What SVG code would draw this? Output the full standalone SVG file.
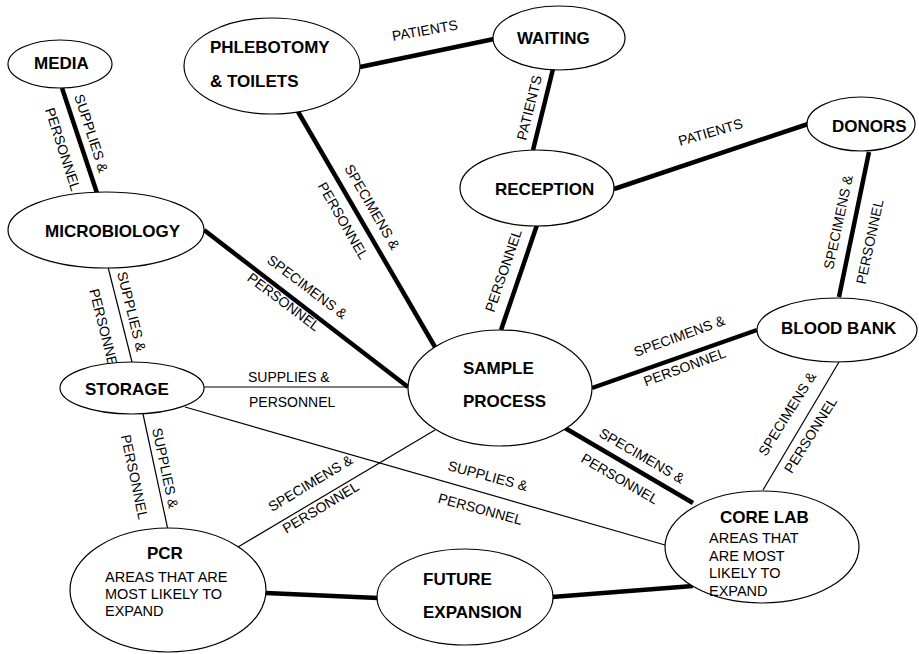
<svg xmlns="http://www.w3.org/2000/svg" width="919" height="654" viewBox="0 0 919 654">
  <style>
    .node { fill: #ffffff; stroke: #000000; stroke-width: 1.2; }
    .title { font-family: "Liberation Sans", Arial, sans-serif; font-weight: bold; font-size: 17px; fill: #000000; }
    .body { font-family: "Liberation Sans", Arial, sans-serif; font-size: 14.5px; fill: #000000; }
    .lbl { font-family: "Liberation Sans", Arial, sans-serif; font-size: 14px; fill: #000000; }
    .thick { stroke: #000000; stroke-width: 4.5; fill: none; }
    .thin { stroke: #000000; stroke-width: 1.2; fill: none; }
  </style>
  <rect width="919" height="654" fill="#ffffff"/>

  <!-- connectors -->
  <g id="connectors">
    <line class="thick" x1="62" y1="88" x2="97" y2="193"/>
    <line class="thick" x1="360" y1="67" x2="494" y2="39"/>
    <line class="thick" x1="553" y1="69" x2="533" y2="150"/>
    <line class="thick" x1="614" y1="189" x2="808" y2="124"/>
    <line class="thick" x1="869" y1="152" x2="839" y2="297"/>
    <line class="thick" x1="537" y1="225" x2="501" y2="330"/>
    <line class="thick" x1="297" y1="110" x2="435" y2="347"/>
    <line class="thick" x1="204" y1="230" x2="408" y2="387"/>
    <line class="thick" x1="592" y1="388" x2="757" y2="330"/>
    <line class="thick" x1="565" y1="428" x2="693" y2="503"/>
    <line class="thick" x1="266" y1="593" x2="378" y2="598"/>
    <line class="thick" x1="552" y1="597" x2="693" y2="586"/>
    <line class="thin" x1="108" y1="267" x2="132" y2="362"/>
    <line class="thin" x1="204" y1="387" x2="408" y2="387"/>
    <line class="thin" x1="143" y1="414" x2="168" y2="530"/>
    <line class="thin" x1="185" y1="407" x2="665" y2="545"/>
    <line class="thin" x1="238" y1="547" x2="435" y2="430"/>
    <line class="thin" x1="839" y1="362" x2="763" y2="490"/>

    <!-- connector labels -->
    <g class="lbl">
      <g transform="translate(74,96) rotate(72)"><text x="0" y="0">SUPPLIES  &amp;</text><text x="4" y="32">PERSONNEL</text></g>
      <text transform="translate(393,41) rotate(-10)">PATIENTS</text>
      <text transform="translate(526,141) rotate(-76)">PATIENTS</text>
      <text transform="translate(680,146) rotate(-16)">PATIENTS</text>
      <g transform="translate(833,270) rotate(-78)"><text x="0" y="0">SPECIMENS &amp;</text><text x="-8" y="35">PERSONNEL</text></g>
      <text transform="translate(494,313) rotate(-71)">PERSONNEL</text>
      <g transform="translate(344,168) rotate(60)"><text x="0" y="0">SPECIMENS &amp;</text><text x="2" y="32">PERSONNEL</text></g>
      <g transform="translate(266,262) rotate(37)"><text x="0" y="0">SPECIMENS &amp;</text><text x="-5" y="26">PERSONNEL</text></g>
      <g transform="translate(117,273) rotate(76)"><text x="0" y="0">SUPPLIES &amp;</text><text x="10" y="31">PERSONNEL</text></g>
      <text x="248" y="382">SUPPLIES &amp;</text>
      <text x="249" y="407">PERSONNEL</text>
      <g transform="translate(152,429) rotate(78)"><text x="0" y="0">SUPPLIES &amp;</text><text x="0" y="32">PERSONNEL</text></g>
      <g transform="translate(272,512) rotate(-31)"><text x="0" y="0">SPECIMENS &amp;</text><text x="1" y="26">PERSONNEL</text></g>
      <g transform="translate(447,470) rotate(15)"><text x="0" y="0">SUPPLIES &amp;</text><text x="-1" y="34">PERSONNEL</text></g>
      <g transform="translate(598,436) rotate(30)"><text x="0" y="0">SPECIMENS &amp;</text><text x="-3" y="31">PERSONNEL</text></g>
      <g transform="translate(636,357) rotate(-20)"><text x="0" y="0">SPECIMENS &amp;</text><text x="-1" y="31">PERSONNEL</text></g>
      <g transform="translate(766,457) rotate(-58)"><text x="0" y="0">SPECIMENS &amp;</text><text x="-1" y="31">PERSONNEL</text></g>
    </g>
  </g>

  <!-- nodes -->
  <g id="media">
    <ellipse class="node" cx="60" cy="64" rx="52" ry="24"/>
    <text class="title" x="34" y="69">MEDIA</text>
  </g>
  <g id="microbiology">
    <ellipse class="node" cx="106" cy="230" rx="98" ry="38"/>
    <text class="title" x="45" y="237">MICROBIOLOGY</text>
  </g>
  <g id="phlebotomy">
    <ellipse class="node" cx="272" cy="66" rx="88" ry="48"/>
    <text class="title" x="210" y="53">PHLEBOTOMY</text>
    <text class="title" x="210" y="87">&amp; TOILETS</text>
  </g>
  <g id="waiting">
    <ellipse class="node" cx="559" cy="38" rx="66" ry="32"/>
    <text class="title" x="517" y="44">WAITING</text>
  </g>
  <g id="reception">
    <ellipse class="node" cx="537" cy="188" rx="77" ry="38"/>
    <text class="title" x="495" y="195">RECEPTION</text>
  </g>
  <g id="donors">
    <ellipse class="node" cx="861" cy="124" rx="54" ry="27"/>
    <text class="title" x="832" y="132">DONORS</text>
  </g>
  <g id="blood-bank">
    <ellipse class="node" cx="837" cy="330" rx="80" ry="32"/>
    <text class="title" x="781" y="334">BLOOD BANK</text>
  </g>
  <g id="sample-process">
    <ellipse class="node" cx="500" cy="388" rx="92" ry="58"/>
    <text class="title" x="463" y="374">SAMPLE</text>
    <text class="title" x="463" y="407">PROCESS</text>
  </g>
  <g id="storage">
    <ellipse class="node" cx="132" cy="388" rx="72" ry="26"/>
    <text class="title" x="85" y="395">STORAGE</text>
  </g>
  <g id="pcr">
    <ellipse class="node" cx="168" cy="590" rx="98" ry="62"/>
    <text class="title" x="147" y="559">PCR</text>
    <text class="body" x="105" y="582">AREAS THAT ARE</text>
    <text class="body" x="105" y="599">MOST LIKELY TO</text>
    <text class="body" x="105" y="616">EXPAND</text>
  </g>
  <g id="future-expansion">
    <ellipse class="node" cx="465" cy="597" rx="88" ry="48"/>
    <text class="title" x="423" y="585">FUTURE</text>
    <text class="title" x="423" y="618">EXPANSION</text>
  </g>
  <g id="core-lab">
    <ellipse class="node" cx="762" cy="547" rx="97" ry="56"/>
    <text class="title" x="720" y="523">CORE LAB</text>
    <text class="body" x="709" y="543">AREAS THAT</text>
    <text class="body" x="709" y="561">ARE MOST</text>
    <text class="body" x="709" y="578">LIKELY TO</text>
    <text class="body" x="709" y="596">EXPAND</text>
  </g>
</svg>
